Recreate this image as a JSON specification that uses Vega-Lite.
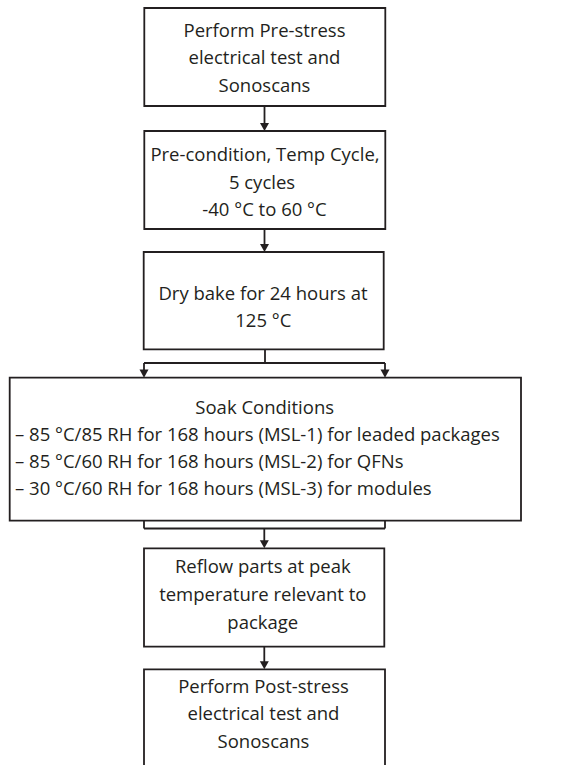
{
  "$schema": "https://vega.github.io/schema/vega-lite/v6.json",
  "width": 572,
  "height": 765,
  "padding": 0,
  "autosize": {"type": "none"},
  "background": "white",
  "config": {"view": {"stroke": null}},
  "datasets": {
    "boxes": [
      {"id": "pre", "x1": 144.3, "x2": 385.3, "y1": 8, "y2": 106},
      {"id": "cond", "x1": 144.3, "x2": 385.3, "y1": 131, "y2": 229},
      {"id": "bake", "x1": 143.7, "x2": 383.7, "y1": 252, "y2": 349.3},
      {"id": "soak", "x1": 9.7, "x2": 521, "y1": 377.7, "y2": 520.7},
      {"id": "reflow", "x1": 144, "x2": 384.3, "y1": 548.3, "y2": 646.7},
      {"id": "post", "x1": 144, "x2": 385, "y1": 669.3, "y2": 772}
    ],
    "lines": [
      {"x1": 264.5, "y1": 106, "x2": 264.5, "y2": 126},
      {"x1": 264.5, "y1": 229, "x2": 264.5, "y2": 247},
      {"x1": 265, "y1": 349.3, "x2": 265, "y2": 363},
      {"x1": 144, "y1": 363, "x2": 385, "y2": 363},
      {"x1": 144, "y1": 363, "x2": 144, "y2": 373},
      {"x1": 385, "y1": 363, "x2": 385, "y2": 373},
      {"x1": 144, "y1": 520.7, "x2": 144, "y2": 528.5},
      {"x1": 385, "y1": 520.7, "x2": 385, "y2": 528.5},
      {"x1": 144, "y1": 528.5, "x2": 385, "y2": 528.5},
      {"x1": 264.3, "y1": 528.5, "x2": 264.3, "y2": 543},
      {"x1": 264.3, "y1": 646.7, "x2": 264.3, "y2": 664}
    ],
    "heads": [
      {"x": 264.5, "y": 131},
      {"x": 264.5, "y": 252},
      {"x": 144, "y": 377.7},
      {"x": 385, "y": 377.7},
      {"x": 264.3, "y": 548.3},
      {"x": 264.3, "y": 669.3}
    ],
    "labels": [
      {"x": 264.5, "y": 31, "text": "Perform Pre-stress", "align": "center"},
      {"x": 264.5, "y": 57.5, "text": "electrical test and", "align": "center"},
      {"x": 264.5, "y": 85.5, "text": "Sonoscans", "align": "center"},
      {"x": 265, "y": 154.5, "text": "Pre-condition, Temp Cycle,", "align": "center"},
      {"x": 262, "y": 183, "text": "5 cycles", "align": "center"},
      {"x": 264.5, "y": 210, "text": "-40 °C to 60 °C", "align": "center"},
      {"x": 263, "y": 293.5, "text": "Dry bake for 24 hours at", "align": "center"},
      {"x": 263.3, "y": 320.5, "text": "125 °C", "align": "center"},
      {"x": 264.7, "y": 408, "text": "Soak Conditions", "align": "center"},
      {"x": 15, "y": 435, "text": "– 85 °C/85 RH for 168 hours (MSL-1) for leaded packages", "align": "left"},
      {"x": 15, "y": 461.7, "text": "– 85 °C/60 RH for 168 hours (MSL-2) for QFNs", "align": "left"},
      {"x": 15, "y": 489.3, "text": "– 30 °C/60 RH for 168 hours (MSL-3) for modules", "align": "left"},
      {"x": 262.8, "y": 567.3, "text": "Reflow parts at peak", "align": "center"},
      {"x": 262.8, "y": 595, "text": "temperature relevant to", "align": "center"},
      {"x": 262.8, "y": 622.7, "text": "package", "align": "center"},
      {"x": 263.5, "y": 686.7, "text": "Perform Post-stress", "align": "center"},
      {"x": 263.5, "y": 714, "text": "electrical test and", "align": "center"},
      {"x": 263.5, "y": 741.7, "text": "Sonoscans", "align": "center"}
    ]
  },
  "layer": [
    {
      "data": {"name": "boxes"},
      "mark": {"type": "rect", "fill": "white", "stroke": "#231f20", "strokeWidth": 1.8, "clip": false},
      "encoding": {
        "x": {"field": "x1", "type": "quantitative", "scale": {"domain": [0, 572], "nice": false, "zero": false}, "axis": null},
        "x2": {"field": "x2"},
        "y": {"field": "y1", "type": "quantitative", "scale": {"domain": [0, 765], "nice": false, "zero": false, "reverse": true}, "axis": null},
        "y2": {"field": "y2"}
      }
    },
    {
      "data": {"name": "lines"},
      "mark": {"type": "rule", "stroke": "#231f20", "strokeWidth": 1.8},
      "encoding": {
        "x": {"field": "x1", "type": "quantitative"},
        "x2": {"field": "x2"},
        "y": {"field": "y1", "type": "quantitative"},
        "y2": {"field": "y2"}
      }
    },
    {
      "data": {"name": "heads"},
      "mark": {"type": "point", "shape": "M-1,-1.8L1,-1.8L0,0Z", "filled": true, "fill": "#231f20", "stroke": null, "size": 81, "opacity": 1},
      "encoding": {
        "x": {"field": "x", "type": "quantitative"},
        "y": {"field": "y", "type": "quantitative"}
      }
    },
    {
      "data": {"name": "labels"},
      "transform": [{"filter": "datum.align === 'center'"}],
      "mark": {"type": "text", "font": "Open Sans", "fontSize": 18.5, "baseline": "middle", "align": "center", "fill": "#231f20"},
      "encoding": {
        "x": {"field": "x", "type": "quantitative"},
        "y": {"field": "y", "type": "quantitative"},
        "text": {"field": "text"}
      }
    },
    {
      "data": {"name": "labels"},
      "transform": [{"filter": "datum.align === 'left'"}],
      "mark": {"type": "text", "font": "Open Sans", "fontSize": 18.5, "baseline": "middle", "align": "left", "fill": "#231f20"},
      "encoding": {
        "x": {"field": "x", "type": "quantitative"},
        "y": {"field": "y", "type": "quantitative"},
        "text": {"field": "text"}
      }
    }
  ]
}
